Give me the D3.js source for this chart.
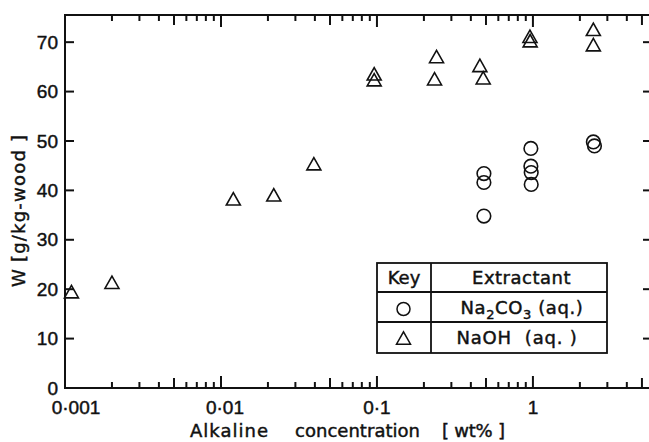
<!DOCTYPE html>
<html>
<head>
<meta charset="utf-8">
<script src="https://cdn.jsdelivr.net/npm/d3@7"></script>
<style>
  body { margin: 0; background: #fff; }
  svg { display: block; }
  text { fill: #111; stroke: #111; stroke-width: 0.45px; }
</style>
</head>
<body>
<div id="chart"></div>
<script>
// NaOH (aq.) - triangles
const naohX = [0.0011, 0.002, 0.012, 0.0218, 0.0394, 0.096, 0.096, 0.241, 0.234, 0.457, 0.48, 0.957, 0.96, 2.44, 2.44];
const naohY = [19.5, 21.4, 38.3, 39.1, 45.4, 63.6, 62.4, 67.1, 62.6, 65.3, 62.8, 71.2, 70.3, 72.6, 69.5];

// Na2CO3 (aq.) - circles
const carbX = [0.485, 0.485, 0.485, 0.97, 0.97, 0.975, 0.975, 2.44, 2.48];
const carbY = [43.4, 41.6, 34.8, 48.5, 44.9, 43.6, 41.2, 49.8, 49.0];

const xMajor = [0.001, 0.01, 0.1, 1];
const xLabels = ['0·001', '0·01', '0·1', '1'];
const yTicks = [0, 10, 20, 30, 40, 50, 60, 70];

const width = 649, height = 442;
const pLeft = 65, pRight = 652, pTop = 15, pBottom = 388;

const svg = d3.select('#chart').append('svg')
  .attr('width', width)
  .attr('height', height);

const x = d3.scaleLog().domain([0.001, 5.8]).range([pLeft, pRight]);
const y = d3.scaleLinear().domain([0, 75.5]).range([pBottom, pTop]);

// minor ticks: 2..9 within each decade
const minors = [], halves = [];
[0.001, 0.01, 0.1, 1].forEach(d => {
  for (let k = 2; k <= 9; k++) {
    const v = d * k;
    if (v > 5.8) continue;
    (k === 5 ? halves : minors).push(v);
  }
});

const frame = svg.append('g').attr('stroke', '#111').attr('stroke-width', 2);
frame.append('rect')
  .attr('x', pLeft).attr('y', pTop)
  .attr('width', pRight - pLeft).attr('height', pBottom - pTop)
  .attr('fill', 'none');

// x ticks, bottom (pointing up) and top (pointing down)
function xTicks(vals, len) {
  vals.forEach(v => {
    frame.append('line').attr('x1', x(v)).attr('x2', x(v)).attr('y1', pBottom).attr('y2', pBottom - len);
    frame.append('line').attr('x1', x(v)).attr('x2', x(v)).attr('y1', pTop).attr('y2', pTop + len);
  });
}
xTicks(minors, 6);
xTicks(halves, 10);
xTicks(xMajor, 12);

// y ticks left and right
yTicks.forEach(v => {
  frame.append('line').attr('x1', pLeft).attr('x2', pLeft + 9).attr('y1', y(v)).attr('y2', y(v));
  frame.append('line').attr('x1', pRight).attr('x2', pRight - 9).attr('y1', y(v)).attr('y2', y(v));
});

// tick labels
const lab = svg.append('g')
  .attr('font-family', 'Liberation Sans, Arial, sans-serif')
  .attr('font-size', 19);

lab.selectAll('text.y')
  .data(yTicks)
  .enter().append('text')
  .attr('class', 'y')
  .attr('x', 58)
  .attr('y', d => y(d))
  .attr('dy', '0.35em')
  .attr('text-anchor', 'end')
  .text(d => d);

const xShift = [11, 4, 0, 0];
lab.selectAll('text.x')
  .data(xMajor)
  .enter().append('text')
  .attr('class', 'x')
  .attr('x', (d, i) => x(d) + xShift[i])
  .attr('y', 414)
  .attr('text-anchor', 'middle')
  .text((d, i) => xLabels[i]);

// axis titles, word by word (wide gaps in the original)
const titles = svg.append('g')
  .attr('font-family', 'DejaVu Sans, sans-serif')
  .attr('font-size', 18);

const xWords = [['Alkaline', 190, 78], ['concentration', 295, 125], ['[ wt% ]', 442, 63]];
xWords.forEach(w => {
  titles.append('text')
    .attr('x', w[1]).attr('y', 437)
    .attr('textLength', w[2]).attr('lengthAdjust', 'spacing')
    .style('white-space', 'pre')
    .text(w[0]);
});

const yWords = [['W', 287, 14], ['[g/kg-wood ]', 262, 127]];
yWords.forEach(w => {
  titles.append('text')
    .attr('transform', `translate(25,${w[1]}) rotate(-90)`)
    .attr('textLength', w[2]).attr('lengthAdjust', 'spacing')
    .style('white-space', 'pre')
    .text(w[0]);
});

// markers
const tri = 'M-7,6.2L7,6.2L0,-6.2Z';
const marks = svg.append('g').attr('fill', 'none').attr('stroke', '#111').attr('stroke-width', 1.6);

marks.selectAll('path.naoh')
  .data(naohX)
  .enter().append('path')
  .attr('class', 'naoh')
  .attr('d', tri)
  .attr('transform', (d, i) => `translate(${x(d)},${y(naohY[i])})`);

marks.selectAll('circle.carb')
  .data(carbX)
  .enter().append('circle')
  .attr('class', 'carb')
  .attr('cx', d => x(d))
  .attr('cy', (d, i) => y(carbY[i]))
  .attr('r', 6.8);

// key table
const key = svg.append('g');
const kx0 = 377, kx1 = 431, kx2 = 607;
const ky = [263, 292, 322, 353];
key.append('rect')
  .attr('x', kx0).attr('y', ky[0])
  .attr('width', kx2 - kx0).attr('height', ky[3] - ky[0])
  .attr('fill', '#fff').attr('stroke', '#111').attr('stroke-width', 1.8);
key.append('line').attr('x1', kx1).attr('x2', kx1).attr('y1', ky[0]).attr('y2', ky[3])
  .attr('stroke', '#111').attr('stroke-width', 1.8);
[ky[1], ky[2]].forEach(v => {
  key.append('line').attr('x1', kx0).attr('x2', kx2).attr('y1', v).attr('y2', v)
    .attr('stroke', '#111').attr('stroke-width', 1.8);
});

const kt = key.append('g')
  .attr('font-family', 'DejaVu Sans, sans-serif')
  .attr('font-size', 18)
  .attr('text-anchor', 'middle');

kt.append('text').attr('x', 404).attr('y', 284).text('Key');
kt.append('text').attr('x', 521.5).attr('y', 284).attr('letter-spacing', 0.5).text('Extractant');

const na = kt.append('text').attr('x', 522).attr('y', 314).attr('letter-spacing', 0.6);
na.append('tspan').text('Na');
na.append('tspan').attr('font-size', 13).attr('dy', 5).text('2');
na.append('tspan').attr('dy', -5).text('CO');
na.append('tspan').attr('font-size', 13).attr('dy', 5).text('3');
na.append('tspan').attr('dy', -5).text(' (aq.)');

kt.append('text').attr('x', 517).attr('y', 344).attr('letter-spacing', 0.8)
  .style('white-space', 'pre').text('NaOH  (aq. )');

key.append('circle')
  .attr('cx', 403.5).attr('cy', 309)
  .attr('r', 6.5)
  .attr('fill', 'none').attr('stroke', '#111').attr('stroke-width', 1.5);
key.append('path')
  .attr('d', tri)
  .attr('transform', 'translate(403.5,338)')
  .attr('fill', 'none').attr('stroke', '#111').attr('stroke-width', 1.5);
</script>
</body>
</html>
